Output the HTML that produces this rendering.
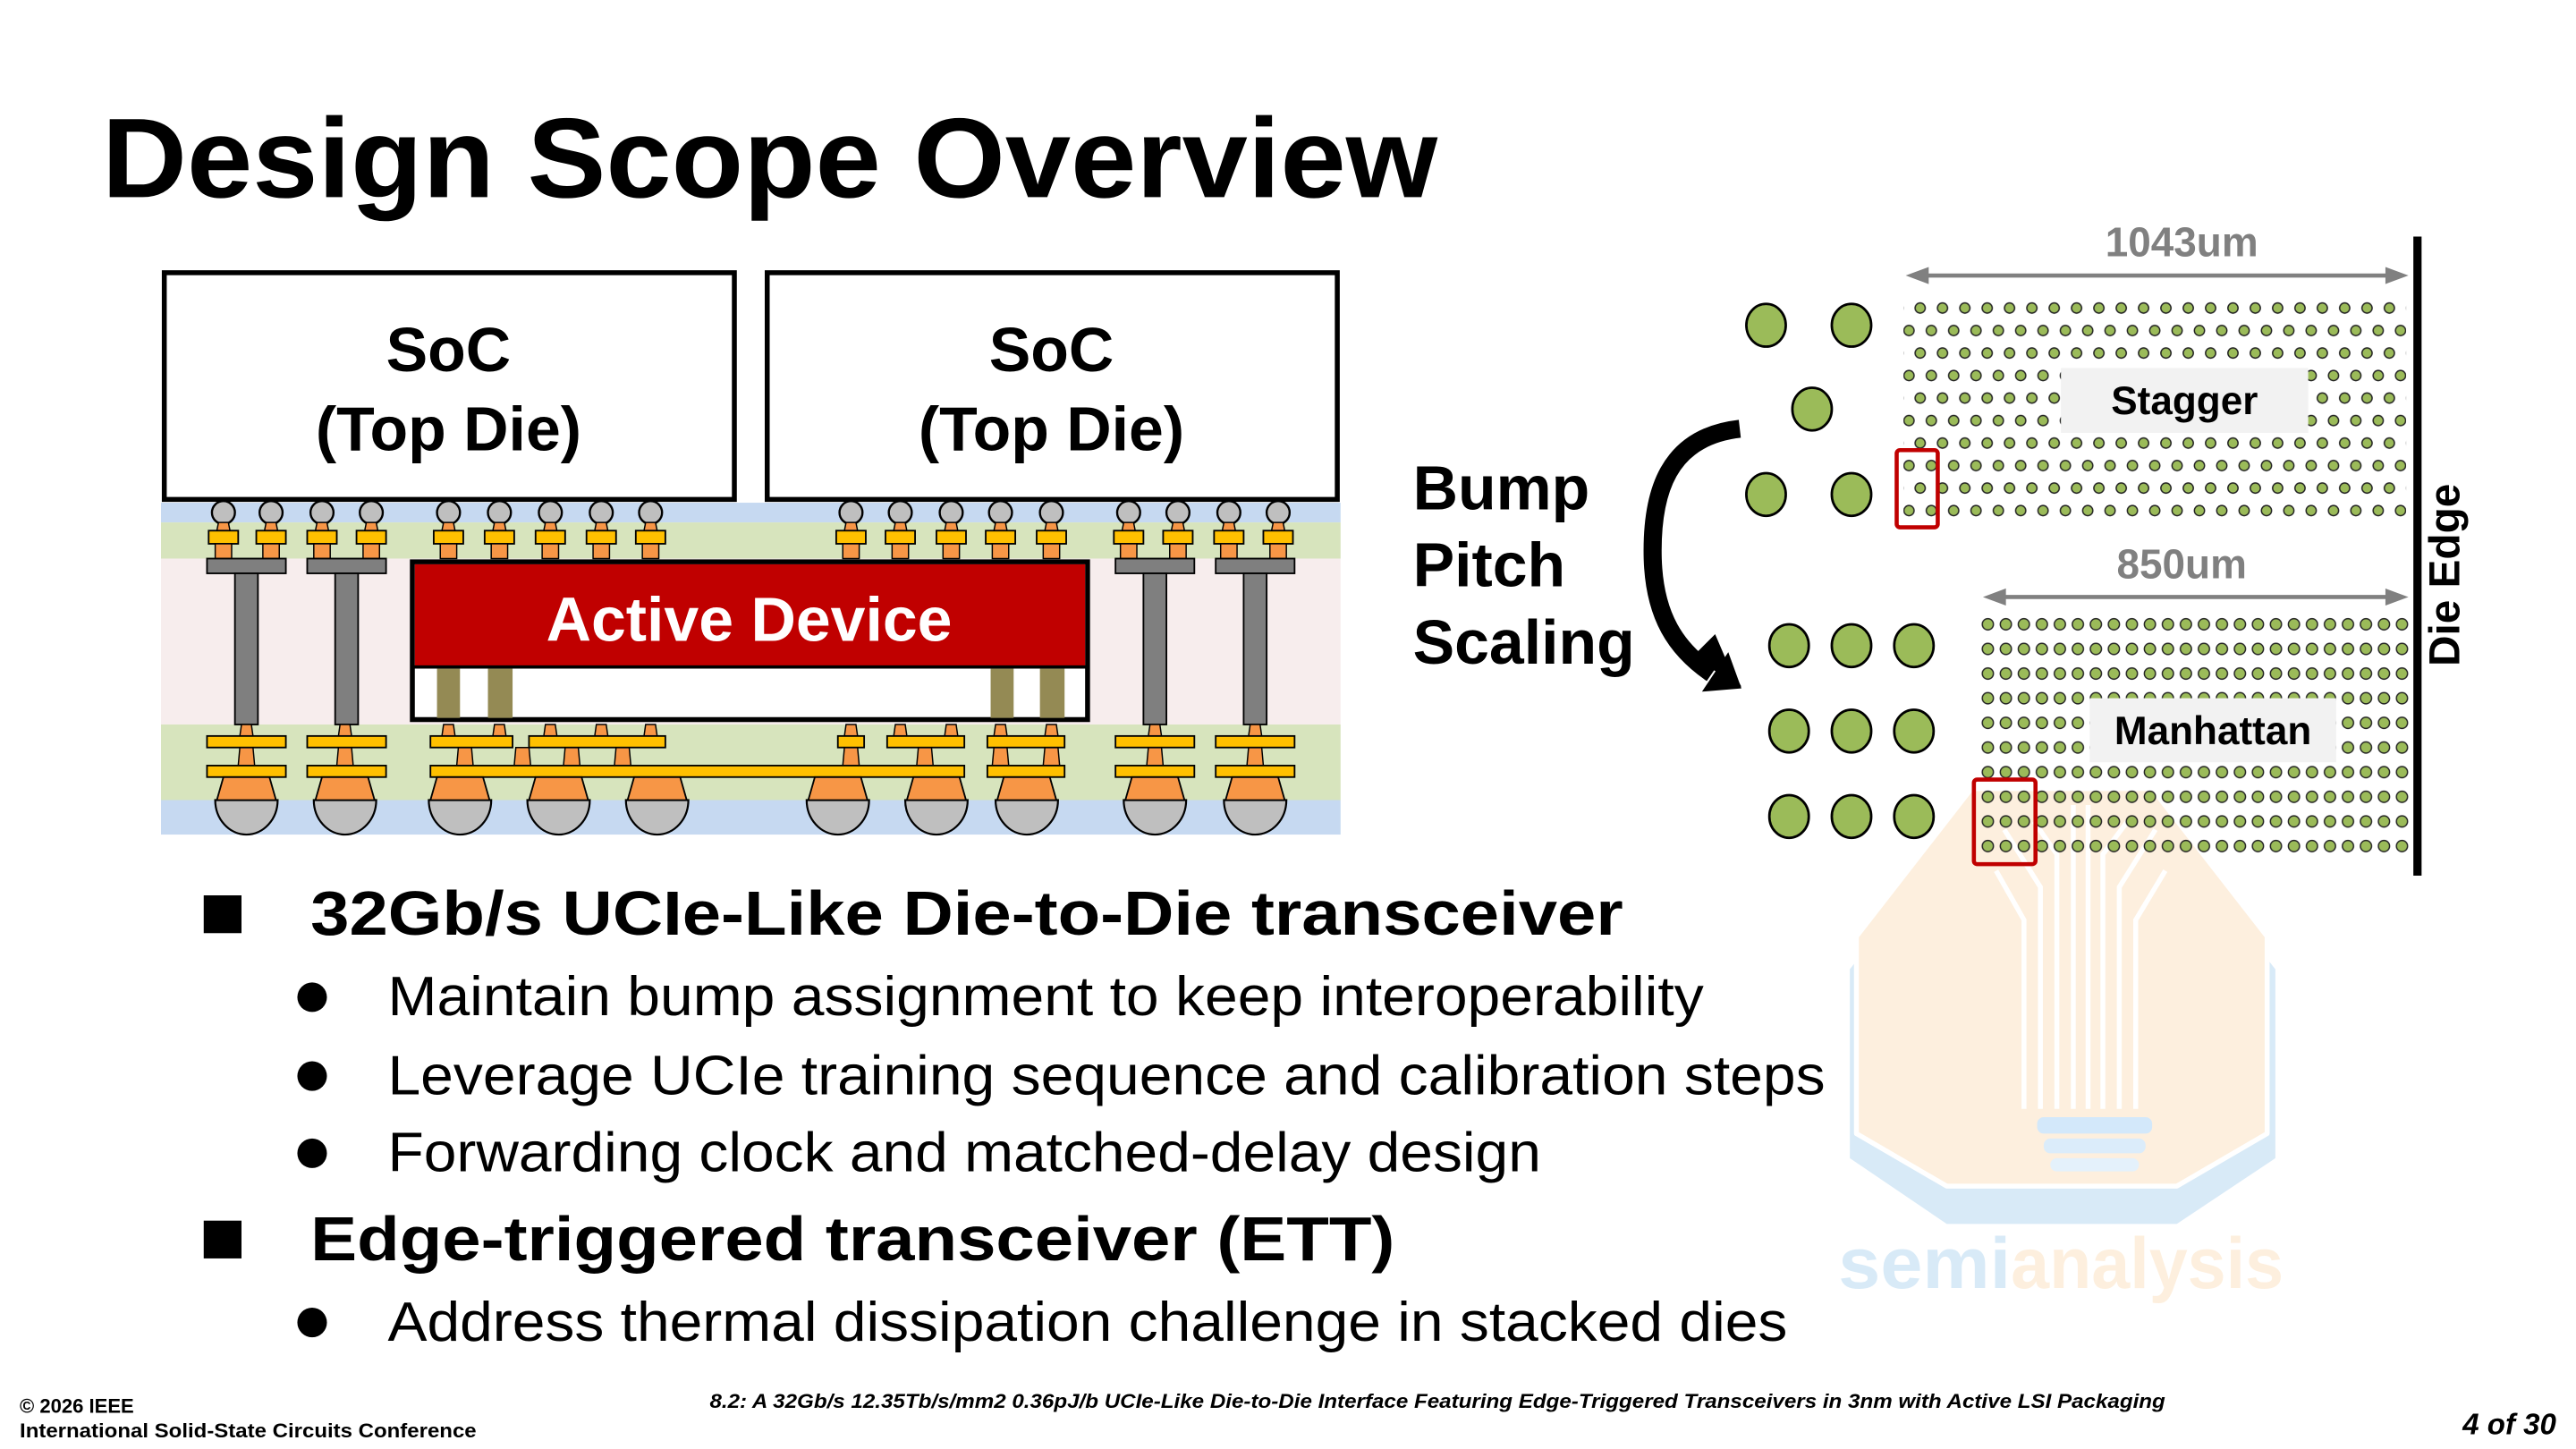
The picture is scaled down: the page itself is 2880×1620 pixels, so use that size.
<!DOCTYPE html>
<html><head><meta charset="utf-8">
<style>
html,body{margin:0;padding:0;background:#fff;}
svg{display:block;}
text{font-family:"Liberation Sans",Arial,sans-serif;}
</style></head>
<body>
<svg width="2880" height="1620" viewBox="0 0 1568 882" xmlns="http://www.w3.org/2000/svg">
<defs>
  <pattern id="stg" patternUnits="userSpaceOnUse" x="1155.2" y="180.65" width="13.6" height="27.4">
    <circle cx="0" cy="6.85" r="3.1" fill="#9bbb59" stroke="#222" stroke-width="0.8"/>
    <circle cx="13.6" cy="6.85" r="3.1" fill="#9bbb59" stroke="#222" stroke-width="0.8"/>
    <circle cx="6.8" cy="20.55" r="3.1" fill="#9bbb59" stroke="#222" stroke-width="0.8"/>
  </pattern>
  <pattern id="man" patternUnits="userSpaceOnUse" x="1204.52" y="372.5" width="10.96" height="15">
    <circle cx="5.48" cy="7.5" r="3.4" fill="#9bbb59" stroke="#222" stroke-width="0.8"/>
  </pattern>
  <g id="tb">
    <circle cx="0" cy="312" r="7" fill="#bfbfbf" stroke="#000" stroke-width="1.3"/>
    <polygon points="-3,318 3,318 4,323 -4,323" fill="#f79646" stroke="#000" stroke-width="0.8"/>
    <rect x="-9" y="323" width="18" height="8" fill="#ffc000" stroke="#000" stroke-width="1"/>
    <rect x="-5" y="331" width="10" height="9" fill="#f79646" stroke="#000" stroke-width="0.8"/>
  </g>
  <g id="bb">
    <path d="M-19,487 L19,487 A19,21 0 0 1 -19,487 Z" fill="#bfbfbf" stroke="#000" stroke-width="1.2"/>
    <polygon points="-14,473 14,473 18,487 -18,487" fill="#f79646" stroke="#000" stroke-width="1"/>
  </g>
  <g id="bp">
    <polygon points="-4,455 4,455 5,466 -5,466" fill="#f79646" stroke="#000" stroke-width="0.8"/>
  </g>
  <g id="sp">
    <polygon points="-3,441 3,441 4,448 -4,448" fill="#f79646" stroke="#000" stroke-width="0.8"/>
  </g>
</defs>

<!-- Watermark -->
<g opacity="0.9">
  <polygon points="1195,500 1315,500 1385,590 1385,705 1325,745 1185,745 1126,705 1126,590" fill="#d4e8f7"/>
  <polygon points="1200,480 1310,480 1380,570 1380,690 1325,722 1185,722 1130,690 1130,570" fill="#fdeedb" stroke="#fff" stroke-width="3" stroke-linejoin="round"/>
  <g stroke="#fff" stroke-width="3" fill="none">
    <path d="M1232,675 V560 L1215,530 M1242,675 V540 L1220,505 M1252,675 V520 L1238,500 M1262,675 V490 M1271,675 V490 M1280,675 V520 L1295,500 M1290,675 V540 L1312,505 M1300,675 V560 L1318,530"/>
  </g>
  <rect x="1240" y="680" width="70" height="10" rx="4" fill="#cfe6fa"/>
  <rect x="1244" y="693" width="62" height="9" rx="4" fill="#d8ebfa"/>
  <rect x="1248" y="705" width="54" height="8" rx="4" fill="#e2f0fb"/>
  <text x="1119" y="784" font-size="44" font-weight="bold" fill="#d4e8f7" textLength="105" lengthAdjust="spacingAndGlyphs">semi</text>
  <text x="1224" y="784" font-size="44" font-weight="bold" fill="#fdeedb" textLength="166" lengthAdjust="spacingAndGlyphs">analysis</text>
</g>

<!-- Title -->
<text x="62" y="120" font-size="69" font-weight="bold" fill="#000" textLength="813" lengthAdjust="spacingAndGlyphs">Design Scope Overview</text>

<!-- Cross-section layers -->
<rect x="98" y="306" width="718" height="12" fill="#c6d9f1"/>
<rect x="98" y="318" width="718" height="22" fill="#d7e4bd"/>
<rect x="98" y="340" width="718" height="101" fill="#f7eded"/>
<rect x="98" y="441" width="718" height="46" fill="#d7e4bd"/>
<rect x="98" y="487" width="718" height="21" fill="#c6d9f1"/>

<!-- SoC boxes -->
<rect x="100" y="166" width="347" height="138" fill="#fff" stroke="#000" stroke-width="3"/>
<rect x="467" y="166" width="347" height="138" fill="#fff" stroke="#000" stroke-width="3"/>
<text x="273" y="226" font-size="38" font-weight="bold" text-anchor="middle">SoC</text>
<text x="273" y="274" font-size="38" font-weight="bold" text-anchor="middle">(Top Die)</text>
<text x="640" y="226" font-size="38" font-weight="bold" text-anchor="middle">SoC</text>
<text x="640" y="274" font-size="38" font-weight="bold" text-anchor="middle">(Top Die)</text>

<!-- top bumps -->
<use href="#tb" x="136"/><use href="#tb" x="165"/><use href="#tb" x="196"/><use href="#tb" x="226"/>
<use href="#tb" x="273"/><use href="#tb" x="304"/><use href="#tb" x="335"/><use href="#tb" x="366"/><use href="#tb" x="396"/>
<use href="#tb" x="518"/><use href="#tb" x="548"/><use href="#tb" x="579"/><use href="#tb" x="609"/><use href="#tb" x="640"/>
<use href="#tb" x="687"/><use href="#tb" x="717"/><use href="#tb" x="748"/><use href="#tb" x="778"/>

<!-- through pillars -->
<g fill="#7f7f7f" stroke="#000" stroke-width="1">
  <rect x="126" y="340" width="48" height="9"/><rect x="143" y="349" width="14" height="92"/>
  <rect x="187" y="340" width="48" height="9"/><rect x="204" y="349" width="14" height="92"/>
  <rect x="679" y="340" width="48" height="9"/><rect x="696" y="349" width="14" height="92"/>
  <rect x="740" y="340" width="48" height="9"/><rect x="757" y="349" width="14" height="92"/>
</g>

<!-- Active device -->
<rect x="251" y="342" width="411" height="96" fill="#fff" stroke="#000" stroke-width="3"/>
<rect x="252.5" y="343.5" width="408" height="62" fill="#c00000"/>
<line x1="251" y1="406" x2="662" y2="406" stroke="#000" stroke-width="2"/>
<g fill="#948a54">
  <rect x="266" y="407" width="14" height="30"/><rect x="297" y="407" width="15" height="30"/>
  <rect x="603" y="407" width="14" height="30"/><rect x="633" y="407" width="15" height="30"/>
</g>
<text x="456" y="390" font-size="38" font-weight="bold" fill="#fff" text-anchor="middle">Active Device</text>

<!-- bottom structures -->
<use href="#sp" x="150"/><use href="#sp" x="210"/>
<use href="#sp" x="273"/><use href="#sp" x="304"/><use href="#sp" x="335"/><use href="#sp" x="366"/><use href="#sp" x="396"/>
<use href="#sp" x="518"/><use href="#sp" x="548"/><use href="#sp" x="579"/><use href="#sp" x="609"/><use href="#sp" x="640"/>
<use href="#sp" x="703"/><use href="#sp" x="764"/>
<use href="#bp" x="150"/><use href="#bp" x="210"/>
<use href="#bp" x="283"/><use href="#bp" x="318"/><use href="#bp" x="348"/><use href="#bp" x="379"/>
<use href="#bp" x="518"/><use href="#bp" x="563"/><use href="#bp" x="609"/><use href="#bp" x="640"/>
<use href="#bp" x="703"/><use href="#bp" x="764"/>
<g fill="#ffc000" stroke="#000" stroke-width="1">
  <rect x="126" y="448" width="48" height="7"/><rect x="187" y="448" width="48" height="7"/>
  <rect x="262" y="448" width="50" height="7"/><rect x="322" y="448" width="83" height="7"/>
  <rect x="510" y="448" width="16" height="7"/><rect x="540" y="448" width="47" height="7"/>
  <rect x="601" y="448" width="47" height="7"/>
  <rect x="679" y="448" width="48" height="7"/><rect x="740" y="448" width="48" height="7"/>
  <rect x="126" y="466" width="48" height="7"/><rect x="187" y="466" width="48" height="7"/>
  <rect x="262" y="466" width="325" height="7"/>
  <rect x="601" y="466" width="47" height="7"/>
  <rect x="679" y="466" width="48" height="7"/><rect x="740" y="466" width="48" height="7"/>
</g>
<use href="#bb" x="150"/><use href="#bb" x="210"/><use href="#bb" x="280"/><use href="#bb" x="340"/><use href="#bb" x="400"/>
<use href="#bb" x="510"/><use href="#bb" x="570"/><use href="#bb" x="625"/><use href="#bb" x="703"/><use href="#bb" x="764"/>

<!-- Bump pitch scaling -->
<text x="860" y="310" font-size="38" font-weight="bold">Bump</text>
<text x="860" y="357" font-size="38" font-weight="bold">Pitch</text>
<text x="860" y="404" font-size="38" font-weight="bold">Scaling</text>
<path d="M1059,261 C1015,266 1005,300 1006,340 C1007,375 1020,395 1042,410" fill="none" stroke="#000" stroke-width="11"/>
<polygon points="1060,418 1030,400 1044,386 1050,400" fill="#000"/>
<polygon points="1060,419 1036,421 1052,397" fill="#000"/>

<!-- big bumps -->
<g fill="#9bbb59" stroke="#000" stroke-width="1.5">
  <ellipse cx="1075" cy="198" rx="12" ry="13"/><ellipse cx="1127" cy="198" rx="12" ry="13"/>
  <ellipse cx="1103" cy="249" rx="12" ry="13"/>
  <ellipse cx="1075" cy="301" rx="12" ry="13"/><ellipse cx="1127" cy="301" rx="12" ry="13"/>
  <ellipse cx="1089" cy="393" rx="12" ry="13"/><ellipse cx="1127" cy="393" rx="12" ry="13"/><ellipse cx="1165" cy="393" rx="12" ry="13"/>
  <ellipse cx="1089" cy="445" rx="12" ry="13"/><ellipse cx="1127" cy="445" rx="12" ry="13"/><ellipse cx="1165" cy="445" rx="12" ry="13"/>
  <ellipse cx="1089" cy="497" rx="12" ry="13"/><ellipse cx="1127" cy="497" rx="12" ry="13"/><ellipse cx="1165" cy="497" rx="12" ry="13"/>
</g>

<!-- stagger array -->
<rect x="1158.6" y="181" width="306" height="137" fill="url(#stg)"/>
<rect x="1254.5" y="224" width="150.5" height="39.5" fill="#f2f2f2"/>
<text x="1329.7" y="252" font-size="24" font-weight="bold" text-anchor="middle">Stagger</text>
<rect x="1154.5" y="274" width="25" height="47" rx="2" fill="none" stroke="#c00000" stroke-width="2.5"/>

<!-- manhattan array -->
<rect x="1205" y="373" width="262" height="150" fill="url(#man)"/>
<rect x="1272" y="425" width="150" height="39" fill="#f2f2f2"/>
<text x="1347" y="453" font-size="24" font-weight="bold" text-anchor="middle">Manhattan</text>
<rect x="1201.5" y="474.5" width="37.5" height="51.5" rx="2" fill="none" stroke="#c00000" stroke-width="2.5"/>

<!-- dimension arrows -->
<g stroke="#808080" stroke-width="2.5">
  <line x1="1170" y1="167.7" x2="1456" y2="167.7"/>
  <line x1="1217" y1="363.4" x2="1456" y2="363.4"/>
</g>
<g fill="#808080">
  <polygon points="1160,167.7 1174,162.5 1174,172.9"/>
  <polygon points="1466,167.7 1452,162.5 1452,172.9"/>
  <polygon points="1207,363.4 1221,358.2 1221,368.6"/>
  <polygon points="1466,363.4 1452,358.2 1452,368.6"/>
</g>
<text x="1328" y="156" font-size="25" font-weight="bold" fill="#808080" text-anchor="middle">1043um</text>
<text x="1328" y="352" font-size="25" font-weight="bold" fill="#808080" text-anchor="middle">850um</text>

<!-- die edge -->
<rect x="1469" y="144" width="5" height="389" fill="#000"/>
<text transform="translate(1497,350) rotate(-90)" font-size="26" font-weight="bold" text-anchor="middle">Die Edge</text>

<!-- bullets -->
<rect x="124" y="545" width="23" height="23" fill="#000"/>
<text x="189" y="569" font-size="38" font-weight="bold" textLength="799" lengthAdjust="spacingAndGlyphs">32Gb/s UCIe-Like Die-to-Die transceiver</text>
<circle cx="190" cy="607" r="9" fill="#000"/>
<text x="236" y="618" font-size="34" textLength="801" lengthAdjust="spacingAndGlyphs">Maintain bump assignment to keep interoperability</text>
<circle cx="190" cy="655" r="9" fill="#000"/>
<text x="236" y="666" font-size="34" textLength="875" lengthAdjust="spacingAndGlyphs">Leverage UCIe training sequence and calibration steps</text>
<circle cx="190" cy="702" r="9" fill="#000"/>
<text x="236" y="713" font-size="34" textLength="702" lengthAdjust="spacingAndGlyphs">Forwarding clock and matched-delay design</text>
<rect x="124" y="743" width="23" height="23" fill="#000"/>
<text x="189" y="767" font-size="38" font-weight="bold" textLength="660" lengthAdjust="spacingAndGlyphs">Edge-triggered transceiver (ETT)</text>
<circle cx="190" cy="805" r="9" fill="#000"/>
<text x="236" y="816" font-size="34" textLength="852" lengthAdjust="spacingAndGlyphs">Address thermal dissipation challenge in stacked dies</text>

<!-- footer -->
<text x="12" y="860" font-size="12" font-weight="bold">© 2026 IEEE</text>
<text x="12" y="875" font-size="12" font-weight="bold" textLength="278" lengthAdjust="spacingAndGlyphs">International Solid-State Circuits Conference</text>
<text x="432" y="857" font-size="12" font-weight="bold" font-style="italic" textLength="886" lengthAdjust="spacingAndGlyphs">8.2: A 32Gb/s 12.35Tb/s/mm2 0.36pJ/b UCIe-Like Die-to-Die Interface Featuring Edge-Triggered Transceivers in 3nm with Active LSI Packaging</text>
<text x="1556" y="873" font-size="18" font-weight="bold" font-style="italic" text-anchor="end">4 of 30</text>
</svg>
</body></html>
